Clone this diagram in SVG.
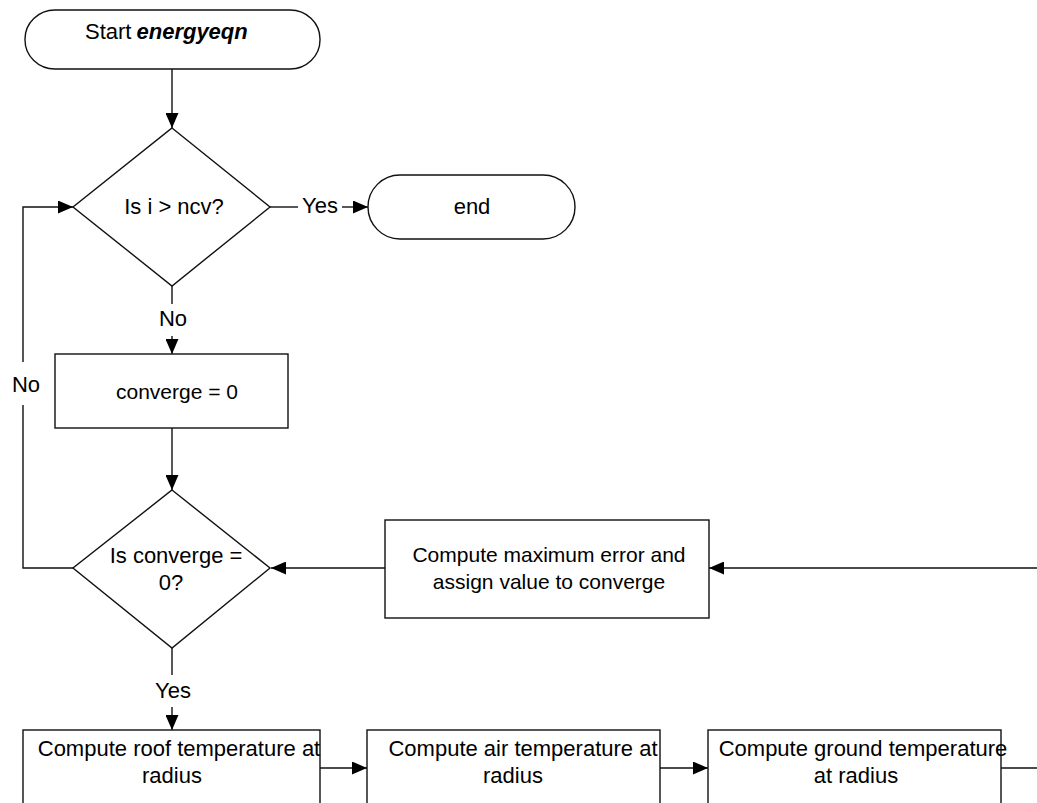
<svg xmlns="http://www.w3.org/2000/svg" width="1037" height="803" viewBox="0 0 1037 803">
<defs>
<style>
.shape{fill:#fff;stroke:#111;stroke-width:1.4}
.conn{fill:none;stroke:#111;stroke-width:1.4}
text{font-family:"Liberation Sans",Arial,sans-serif;font-size:22px;fill:#000}
.m{text-anchor:middle}
</style>
<marker id="arr" markerUnits="userSpaceOnUse" markerWidth="15" markerHeight="13" refX="15" refY="6.5" orient="auto">
<path d="M0,0 L15,6.5 L0,13 z" fill="#000"/>
</marker>
</defs>
<rect width="1037" height="803" fill="#fff"/>
<g id="connectors">
<path class="conn" d="M172,69 V128" marker-end="url(#arr)"/>
<path class="conn" d="M270,207 H298"/>
<path class="conn" d="M342,207 H368" marker-end="url(#arr)"/>
<path class="conn" d="M172,286 V304"/>
<path class="conn" d="M172,336 V354" marker-end="url(#arr)"/>
<path class="conn" d="M172,428 V490" marker-end="url(#arr)"/>
<path class="conn" d="M73,568 H23 V405"/>
<path class="conn" d="M23,362 V207 H73" marker-end="url(#arr)"/>
<path class="conn" d="M385,568 H271" marker-end="url(#arr)"/>
<path class="conn" d="M1037,568 H709" marker-end="url(#arr)"/>
<path class="conn" d="M172,648 V675"/>
<path class="conn" d="M172,707 V730" marker-end="url(#arr)"/>
<path class="conn" d="M320,768 H367" marker-end="url(#arr)"/>
<path class="conn" d="M660,768 H708" marker-end="url(#arr)"/>
<path class="conn" d="M1001,768 H1037"/>
<text x="320" y="213" class="m">Yes</text>
<text x="173" y="326" class="m">No</text>
<text x="26" y="392" class="m">No</text>
<text x="173" y="698" class="m">Yes</text>
</g>
<g id="start">
<rect class="shape" x="25" y="10" width="295" height="59" rx="30" ry="29"/>
<text x="85" y="39">Start<tspan dx="5" font-weight="bold" font-style="italic">energyeqn</tspan></text>
</g>
<g id="decision1">
<polygon class="shape" points="172,128 270,207 172,286 73,207"/>
<text x="174" y="214" class="m">Is i &gt; ncv?</text>
</g>
<g id="end">
<rect class="shape" x="368" y="175" width="207" height="64" rx="32" ry="32"/>
<text x="472" y="214" class="m">end</text>
</g>
<g id="init">
<rect class="shape" x="55" y="354" width="233" height="74"/>
<text x="177" y="399" class="m" style="font-size:21px">converge = 0</text>
</g>
<g id="decision2">
<polygon class="shape" points="172,490 270,568 172,648 73,568"/>
<text x="176" y="563" class="m">Is converge =</text>
<text x="171" y="590" class="m">0?</text>
</g>
<g id="maxerror">
<rect class="shape" x="385" y="520" width="324" height="98"/>
<text x="549" y="562" class="m" style="font-size:21px">Compute maximum error and</text>
<text x="549" y="589" class="m" style="font-size:21px">assign value to converge</text>
</g>
<g id="roof">
<rect class="shape" x="23" y="730" width="297" height="100"/>
<text x="179" y="756" class="m">Compute roof temperature at</text>
<text x="172" y="783" class="m">radius</text>
</g>
<g id="air">
<rect class="shape" x="367" y="730" width="293" height="100"/>
<text x="523" y="756" class="m">Compute air temperature at</text>
<text x="513" y="783" class="m">radius</text>
</g>
<g id="ground">
<rect class="shape" x="708" y="730" width="293" height="100"/>
<text x="863" y="756" class="m">Compute ground temperature</text>
<text x="856" y="783" class="m">at radius</text>
</g>
</svg>
